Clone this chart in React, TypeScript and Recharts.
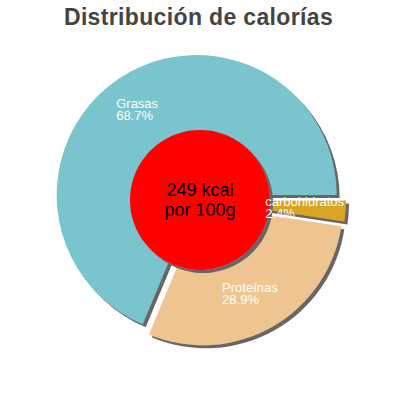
import { Pie, PieChart, Sector, Cell } from "recharts";

const TITLE = "Distribución de calorías";
const CATEGORIES = ["Grasas", "Proteínas", "carbohidratos"];
const PERCENTS = [68.7, 28.9, 2.4];
const COLORS = ["#7ac5cd", "#eec591", "#daa520"];
const ENERGY_LINES = ["249 kcal", "por 100g"];
const ENERGY_KCAL = [249];

const sliceData = CATEGORIES.map((name, i) => ({ name, value: PERCENTS[i] }));
const centerData = ENERGY_KCAL.map((value) => ({ name: "energía", value }));

const FONT = "'Liberation Sans', Arial, sans-serif";
const RAD = Math.PI / 180;
const EXPLODE = 6;
const LABEL_R = 108;
const LABEL_DX = -3;

let ctx: CanvasRenderingContext2D | null = null;
function measure(text: string, size: number) {
  if (!ctx) ctx = document.createElement("canvas").getContext("2d");
  if (!ctx) return text.length * size * 0.55;
  ctx.font = `${size}px ${FONT}`;
  return ctx.measureText(text).width;
}

// slices pushed out from the centre a little, each with a drop shadow
function ExplodedSector(props: any) {
  const { cx, cy, midAngle } = props;
  const dx = EXPLODE * Math.cos(-midAngle * RAD);
  const dy = EXPLODE * Math.sin(-midAngle * RAD);
  return (
    <g filter="url(#shadow)">
      <Sector {...props} cx={cx + dx} cy={cy + dy} stroke="none" />
    </g>
  );
}

function ShadowedSector(props: any) {
  return (
    <g filter="url(#shadow)">
      <Sector {...props} stroke="none" />
    </g>
  );
}

function renderSliceLabel(props: any) {
  const { cx, cy, midAngle, name, percent } = props;
  const x = cx + LABEL_R * Math.cos(-midAngle * RAD);
  const y = cy + LABEL_R * Math.sin(-midAngle * RAD);
  const pct = `${(percent * 100).toFixed(1)}%`;
  const w = Math.max(measure(name, 13), measure(pct, 13));
  const left = x - w / 2 + LABEL_DX;
  return (
    <text fill="#fff" fontSize={13} fontFamily={FONT} clipPath="url(#labelClip)">
      <tspan x={left} y={y - 2}>{name}</tspan>
      <tspan x={left} y={y + 10}>{pct}</tspan>
    </text>
  );
}

function renderCenterLabel(props: any) {
  const { cx, cy } = props;
  return (
    <text textAnchor="middle" fontSize={18} fill="#000" fontFamily={FONT}>
      <tspan x={cx} y={cy - 4}>{ENERGY_LINES[0]}</tspan>
      <tspan x={cx} y={cy + 15.5}>{ENERGY_LINES[1]}</tspan>
    </text>
  );
}

export default function App() {
  return (
    <div style={{ position: "fixed", left: 0, top: 0, width: 400, height: 400, background: "#fff" }}>
      <div
        style={{
          position: "absolute",
          top: 3.5,
          left: 0,
          width: 397,
          textAlign: "center",
          fontFamily: FONT,
          fontWeight: "bold",
          fontSize: 23,
          letterSpacing: 0.35,
          lineHeight: "26px",
          color: "#444",
        }}
      >
        {TITLE}
      </div>
      <PieChart width={400} height={400} margin={{ top: 0, right: 0, bottom: 0, left: 0 }}>
        <defs>
          <filter id="shadow" x="-20%" y="-20%" width="150%" height="150%">
            <feDropShadow dx="3" dy="3" stdDeviation="0.6" floodColor="#666" floodOpacity="1" />
          </filter>
          <clipPath id="labelClip">
            <rect x={0} y={0} width={345} height={400} />
          </clipPath>
        </defs>
        <Pie
          data={sliceData}
          dataKey="value"
          nameKey="name"
          cx={200}
          cy={200}
          outerRadius={140}
          startAngle={0}
          endAngle={360}
          stroke="none"
          shape={ExplodedSector}
          inactiveShape={ExplodedSector}
          activeShape={ExplodedSector}
          isAnimationActive={false}
        >
          {sliceData.map((d, i) => (
            <Cell key={d.name} fill={COLORS[i]} />
          ))}
        </Pie>
        <Pie
          data={centerData}
          dataKey="value"
          cx={200}
          cy={200}
          outerRadius={70}
          fill="#ff0000"
          stroke="none"
          shape={ShadowedSector}
          inactiveShape={ShadowedSector}
          activeShape={ShadowedSector}
          label={renderCenterLabel}
          labelLine={false}
          isAnimationActive={false}
        />
        <Pie
          data={sliceData}
          dataKey="value"
          nameKey="name"
          cx={200}
          cy={200}
          outerRadius={140}
          startAngle={0}
          endAngle={360}
          fill="none"
          stroke="none"
          label={renderSliceLabel}
          labelLine={false}
          isAnimationActive={false}
        />
      </PieChart>
    </div>
  );
}
